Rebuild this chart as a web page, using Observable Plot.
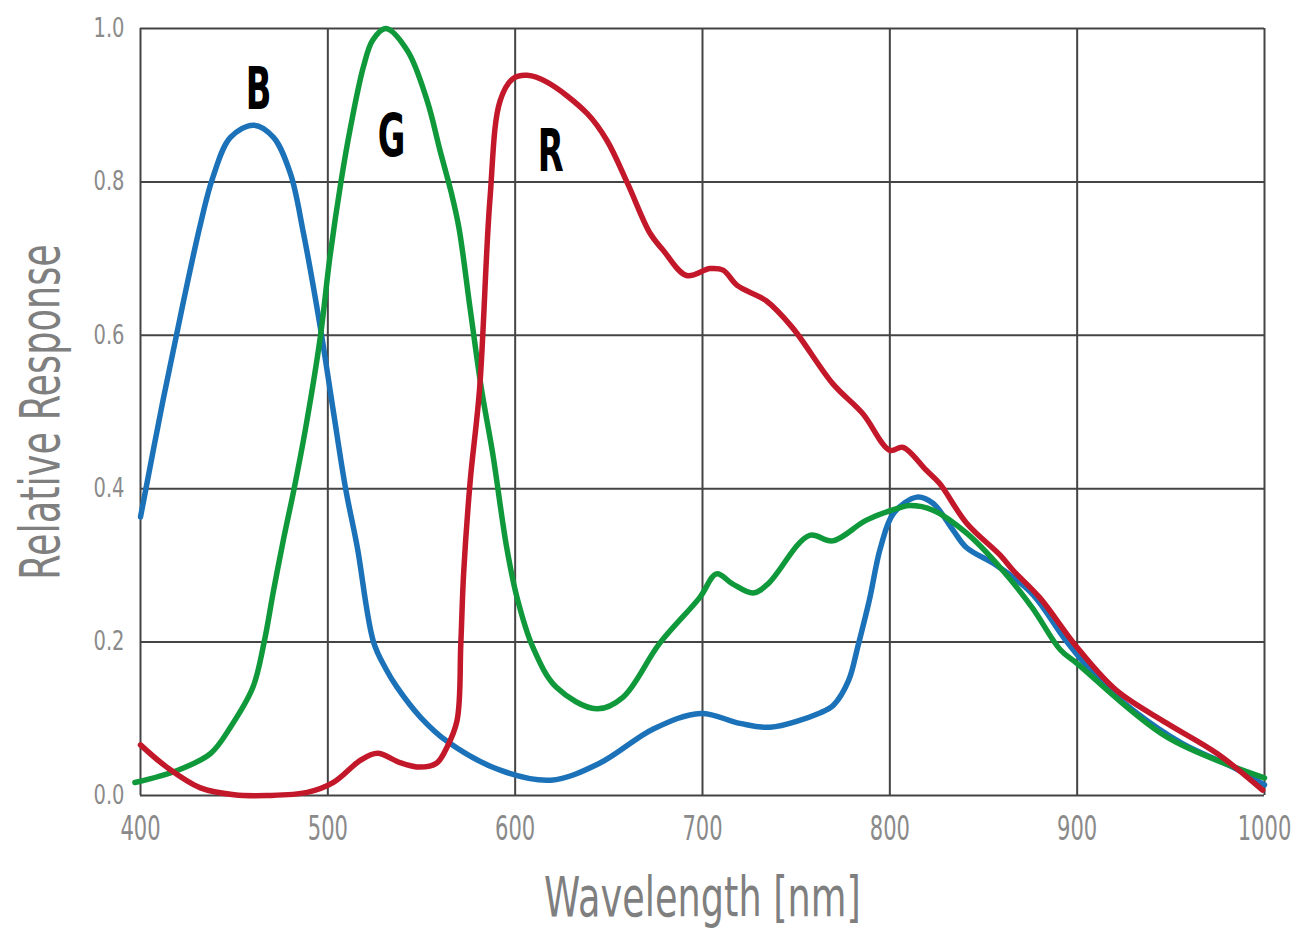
<!DOCTYPE html>
<html>
<head>
<meta charset="utf-8">
<script src="https://cdn.jsdelivr.net/npm/d3@7"></script>
<script src="https://cdn.jsdelivr.net/npm/@observablehq/plot@0.6"></script>
<style>
  html, body { margin: 0; padding: 0; background: #fff; }
  #chart { width: 1303px; height: 939px; }
</style>
</head>
<body>
<div id="chart"></div>
<script>
// ---- data ----
const blueNm  = [400, 412, 423, 432, 438.5, 448, 460.5, 471, 480, 487, 496, 503, 509.5, 515.7, 524.4, 531, 537, 549.5, 564, 592, 619, 645, 674, 699, 720, 736, 763, 770, 778, 783, 789, 795, 802, 814.5, 823, 834, 841, 857, 876, 894, 912, 930, 956, 983, 1000];
const blueVal = [0.363, 0.515, 0.645, 0.745, 0.805, 0.858, 0.874, 0.858, 0.811, 0.733, 0.61, 0.50, 0.40, 0.324, 0.20, 0.165, 0.141, 0.102, 0.070, 0.033, 0.020, 0.042, 0.087, 0.107, 0.094, 0.089, 0.108, 0.118, 0.150, 0.195, 0.254, 0.323, 0.368, 0.389, 0.381, 0.345, 0.323, 0.300, 0.263, 0.202, 0.150, 0.111, 0.068, 0.037, 0.014];

const greenNm  = [397, 420, 437.5, 448, 460, 466, 471, 476.5, 482, 488, 496, 501, 507, 512, 519, 524, 531, 542.5, 553, 560, 566, 570, 576, 582, 588, 595.5, 601, 609.5, 622, 643.5, 657.5, 677, 698.5, 707.5, 716, 727, 735, 757, 769.5, 787.5, 805, 811, 823, 841, 859, 876, 891, 900, 948, 1000];
const greenVal = [0.017, 0.033, 0.055, 0.089, 0.141, 0.200, 0.267, 0.336, 0.400, 0.477, 0.598, 0.700, 0.800, 0.870, 0.950, 0.985, 1.000, 0.971, 0.906, 0.840, 0.785, 0.740, 0.634, 0.530, 0.446, 0.323, 0.258, 0.193, 0.141, 0.113, 0.128, 0.198, 0.258, 0.289, 0.276, 0.264, 0.276, 0.339, 0.332, 0.359, 0.375, 0.378, 0.372, 0.342, 0.297, 0.245, 0.190, 0.172, 0.076, 0.023];

const redNm  = [400, 414, 432, 450, 467.5, 489, 503, 517.5, 526.5, 538.5, 549, 558, 563.6, 569, 571, 572.5, 576, 581, 586.5, 592, 599, 606.5, 617, 638.5, 649, 660, 672, 679, 691.5, 704, 711, 718.5, 734, 748, 769.5, 785.5, 800, 807, 819.5, 826.5, 841, 859, 866, 880, 900, 921, 948, 974.5, 999];
const redVal = [0.066, 0.037, 0.010, 0.001, 0.000, 0.004, 0.017, 0.046, 0.055, 0.043, 0.037, 0.042, 0.063, 0.098, 0.199, 0.290, 0.410, 0.530, 0.776, 0.906, 0.935, 0.939, 0.930, 0.889, 0.854, 0.798, 0.733, 0.711, 0.678, 0.687, 0.685, 0.665, 0.645, 0.610, 0.537, 0.498, 0.450, 0.454, 0.424, 0.407, 0.355, 0.313, 0.293, 0.258, 0.193, 0.137, 0.094, 0.055, 0.007];

const seriesNames  = ["B", "G", "R"];
const seriesColors = ["#1b72b8", "#10993a", "#c3172a"];
const labelNm  = [463, 534, 619];
const labelVal = [0.919, 0.858, 0.838];

const xTicks = [400, 500, 600, 700, 800, 900, 1000];
const yTicks = [0.0, 0.2, 0.4, 0.6, 0.8, 1.0];
const xTitle = "Wavelength [nm]";
const yTitle = "Relative Response";

// ---- build tables ----
const toRows = (nm, val) => nm.map((w, i) => ({nm: w, v: val[i]}));
const blue  = toRows(blueNm, blueVal);
const green = toRows(greenNm, greenVal);
const red   = toRows(redNm, redVal);
const labels = seriesNames.map((s, i) => ({s, nm: labelNm[i], v: labelVal[i]}));

const font = "'DejaVu Sans', 'Noto Sans', sans-serif";

const chart = Plot.plot({
  width: 1303,
  height: 939,
  marginLeft: 140,
  marginRight: 39,
  marginTop: 28,
  marginBottom: 144,
  style: {fontFamily: font, fontSize: "26px", background: "#fff", overflow: "visible"},
  x: {domain: [400, 1000]},
  y: {domain: [0, 1]},
  marks: [
    Plot.gridX(xTicks, {stroke: "#444", strokeOpacity: 1, strokeWidth: 2}),
    Plot.gridY(yTicks, {stroke: "#444", strokeOpacity: 1, strokeWidth: 2}),
    Plot.axisX({ticks: xTicks, tickSize: 0, tickPadding: 20, tickFormat: d => String(d), label: null, fill: "#8a8a8a", fontSize: 34}),
    Plot.axisY({ticks: yTicks, tickSize: 0, tickPadding: 16, tickFormat: d3.format(".1f"), label: null, fill: "#8a8a8a", fontSize: 26}),
    Plot.line(blue,  {x: "nm", y: "v", stroke: seriesColors[0], strokeWidth: 5.5, curve: "catmull-rom", clip: false}),
    Plot.line(green, {x: "nm", y: "v", stroke: seriesColors[1], strokeWidth: 5.5, curve: "catmull-rom", clip: false}),
    Plot.line(red,   {x: "nm", y: "v", stroke: seriesColors[2], strokeWidth: 5.5, curve: "catmull-rom", clip: false}),
    Plot.text(labels, {x: "nm", y: "v", text: "s", fill: "#000", fontSize: 58, fontWeight: "bold"}),
    Plot.text([xTitle], {frameAnchor: "bottom", lineAnchor: "middle", textAnchor: "middle", dy: 103, fill: "#7f7f7f", fontSize: 56}),
    Plot.text([yTitle], {frameAnchor: "left", lineAnchor: "middle", textAnchor: "middle", dx: -99, rotate: -90, fill: "#7f7f7f", fontSize: 56})
  ]
});
document.getElementById("chart").appendChild(chart);

// Condense the glyphs (the reference uses a condensed typeface; none is installed):
// wrap each text in a group scaled along its reading direction about its anchor.
const scaleBySize = {"34px": 0.62, "26px": 0.75, "56px": 0.655, "58px": 0.58};
const svgEl = chart.tagName.toLowerCase() === "svg" ? chart : chart.querySelector("svg");
svgEl.querySelectorAll("text").forEach(t => {
  const cs = getComputedStyle(t);
  const s = scaleBySize[cs.fontSize];
  if (!s) return;
  const r = t.getBoundingClientRect();
  const vertical = r.height > r.width * 1.5 && (t.textContent || "").length > 3;
  const anchor = cs.textAnchor;
  let sx, sy;
  if (vertical) {
    sx = r.left + r.width / 2;
    sy = r.top + r.height / 2;
  } else {
    sx = anchor === "end" ? r.right : anchor === "start" ? r.left : r.left + r.width / 2;
    sy = r.top + r.height / 2;
  }
  const parent = t.parentNode;
  const pt = svgEl.createSVGPoint();
  pt.x = sx; pt.y = sy;
  const p = pt.matrixTransform(parent.getScreenCTM().inverse());
  const g = document.createElementNS("http://www.w3.org/2000/svg", "g");
  const sc = vertical ? `scale(1,${s})` : `scale(${s},1)`;
  g.setAttribute("transform", `translate(${p.x},${p.y}) ${sc} translate(${-p.x},${-p.y})`);
  parent.insertBefore(g, t);
  g.appendChild(t);
});
</script>
</body>
</html>
